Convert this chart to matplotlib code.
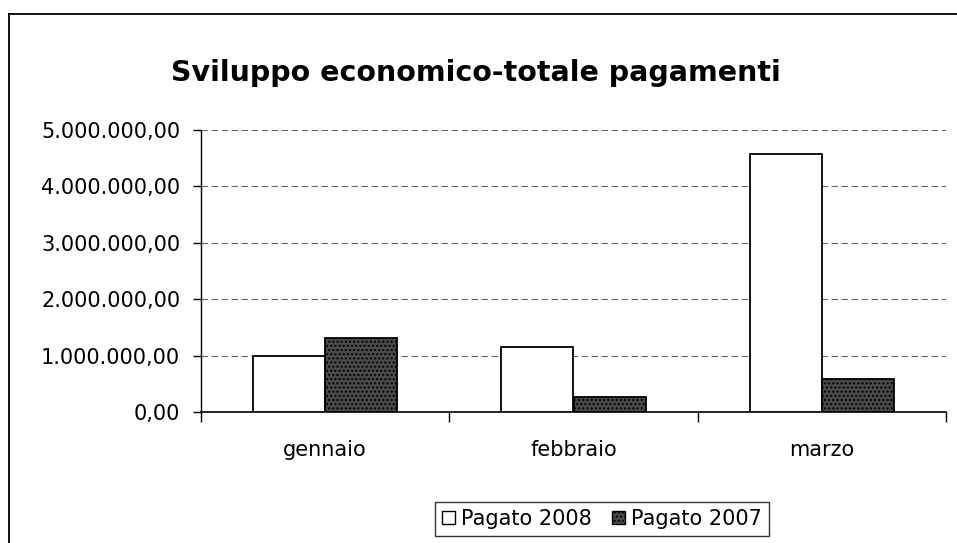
import matplotlib
matplotlib.use("Agg")
import matplotlib.pyplot as plt
from matplotlib.patches import Patch
from matplotlib.lines import Line2D
from matplotlib.ticker import FuncFormatter, FixedLocator

# dati
mesi = ["gennaio", "febbraio", "marzo"]
pagato_2008 = [990000, 1160000, 4580000]
pagato_2007 = [1310000, 270000, 590000]
serie = ["Pagato 2008", "Pagato 2007"]

plt.rcParams["font.family"] = ["DejaVu Sans"]

fig = plt.figure(figsize=(9.57, 5.43), dpi=100)
ax = fig.add_axes([201/957, 1 - 412/543, 745/957, 282/543])

x = list(range(len(mesi)))
w = 0.29
ax.bar([i - w/2 for i in x], pagato_2008, width=w, color="white",
       edgecolor="black", linewidth=1.3, zorder=3)
ax.bar([i + w/2 for i in x], pagato_2007, width=w, color="#4a4a4a",
       edgecolor="black", linewidth=1.3, hatch="....", zorder=3)

ax.set_xlim(-0.5, 2.5)
ax.set_ylim(0, 5000000)

def formato_it(v, pos):
    s = f"{v:,.2f}"
    return s.replace(",", "X").replace(".", ",").replace("X", ".")

ax.yaxis.set_major_locator(FixedLocator([0, 1e6, 2e6, 3e6, 4e6, 5e6]))
ax.yaxis.set_major_formatter(FuncFormatter(formato_it))
ax.tick_params(axis="y", direction="out", length=6, width=1, pad=9,
               labelsize=15, colors="black")

ax.set_xticks([-0.5, 0.5, 1.5, 2.5])
ax.set_xticklabels([])
ax.set_xticks(x, minor=True)
ax.set_xticklabels(mesi, minor=True)
ax.tick_params(axis="x", which="major", direction="out", length=7, width=1)
ax.tick_params(axis="x", which="minor", length=0, pad=20, labelsize=15)

ax.yaxis.grid(True, color="#666666", linestyle=(0, (6, 3)), linewidth=0.8, zorder=0)
for lato in ["top", "right"]:
    ax.spines[lato].set_visible(False)
ax.spines["left"].set_linewidth(1)
ax.spines["bottom"].set_linewidth(1.2)

fig.text(476/957, 1 - 73/543, "Sviluppo economico-totale pagamenti",
         ha="center", va="center", fontsize=20.5, fontweight="bold")

# cornice del grafico
fig.add_artist(Line2D([9/957, 9/957], [0, 1 - 14/543], color="black", lw=1.3))
fig.add_artist(Line2D([9/957, 1], [1 - 14/543, 1 - 14/543], color="black", lw=1.3))

maniglie = [Patch(facecolor="white", edgecolor="black", linewidth=1),
            Patch(facecolor="#4a4a4a", edgecolor="black", linewidth=1, hatch="....")]
leg = fig.legend(maniglie, serie, loc="center", bbox_to_anchor=(602/957, 1 - 519/543),
                 ncol=2, frameon=True, fancybox=False, edgecolor="black",
                 fontsize=15, handlelength=0.6, handleheight=0.6,
                 handletextpad=0.3, columnspacing=1.0, borderpad=0.35,
                 borderaxespad=0)
leg.get_frame().set_linewidth(1)

fig.savefig("out.png", dpi=100)
